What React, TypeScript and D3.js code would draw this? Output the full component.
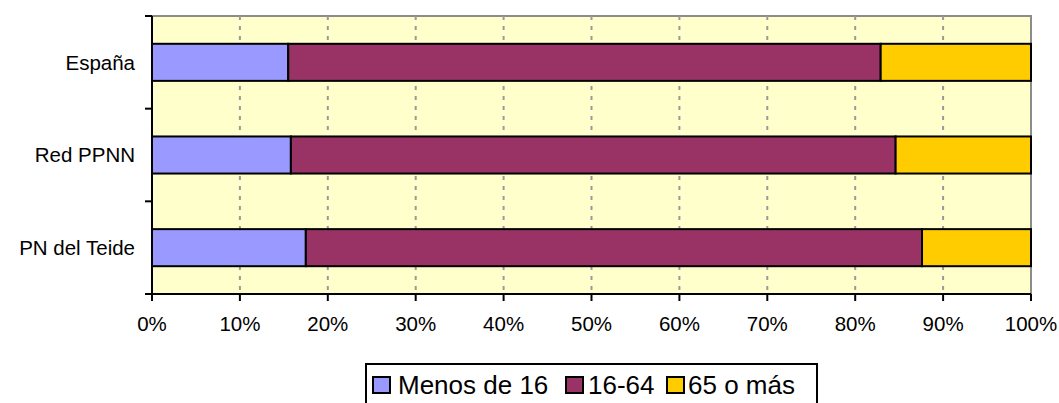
import { useEffect, useRef } from 'react'
import * as d3 from 'd3'

const categories = ['España', 'Red PPNN', 'PN del Teide']
const seriesNames = ['Menos de 16', '16-64', '65 o más']
const menos16 = [15.5, 15.8, 17.5]
const de16a64 = [67.4, 68.8, 70.1]
const mas65 = [17.1, 15.4, 12.4]
const seriesColors = ['#9999FF', '#993366', '#FFCC00']
const xTicks = [0, 10, 20, 30, 40, 50, 60, 70, 80, 90, 100]

const WIDTH = 1059
const HEIGHT = 403
const margin = { top: 16, right: 28, bottom: 109, left: 152 }
const FONT = 'Liberation Sans, Arial, sans-serif'

export default function App() {
  const svgRef = useRef<SVGSVGElement>(null)

  useEffect(() => {
    if (!svgRef.current) return
    const svg = d3.select(svgRef.current)
    svg.selectAll('*').remove()

    const w = WIDTH - margin.left - margin.right
    const h = HEIGHT - margin.top - margin.bottom
    const g = svg.append('g').attr('transform', `translate(${margin.left},${margin.top})`)

    const x = d3.scaleLinear().domain([0, 100]).range([0, w])
    const y = d3.scaleBand().domain(categories).range([0, h]).paddingInner(0.6).paddingOuter(0.3)
    const yEdges = d3.scaleLinear().domain([0, categories.length]).range([0, h])

    // plot background
    g.append('rect')
      .attr('width', w)
      .attr('height', h)
      .attr('fill', '#FFFFCC')
      .attr('stroke', '#8c8c8c')
      .attr('stroke-width', 2)

    // dashed gridlines
    g.selectAll('.grid')
      .data(xTicks.slice(1, -1))
      .join('line')
      .attr('x1', d => x(d))
      .attr('x2', d => x(d))
      .attr('y1', 0)
      .attr('y2', h)
      .attr('stroke', '#999999')
      .attr('stroke-width', 2)
      .attr('stroke-dasharray', '4,6')

    // stacked bars
    const stacked = d3.stack<number>()
      .keys(['0', '1', '2'])
      .value((i, k) => [menos16, de16a64, mas65][+k][i])(d3.range(categories.length))

    stacked.forEach((layer, si) => {
      g.selectAll(`.bar-${si}`)
        .data(layer)
        .join('rect')
        .attr('x', d => x(d[0]))
        .attr('y', (_, i) => y(categories[i])!)
        .attr('width', d => x(d[1]) - x(d[0]))
        .attr('height', y.bandwidth())
        .attr('fill', seriesColors[si])
        .attr('stroke', '#000')
        .attr('stroke-width', 2)
    })

    // y axis
    g.append('line')
      .attr('x1', 0).attr('x2', 0).attr('y1', 0).attr('y2', h)
      .attr('stroke', '#000').attr('stroke-width', 2)
    g.selectAll('.ytick')
      .data(d3.range(categories.length + 1))
      .join('line')
      .attr('x1', -7).attr('x2', 0)
      .attr('y1', d => yEdges(d)).attr('y2', d => yEdges(d))
      .attr('stroke', '#000').attr('stroke-width', 2)
    g.selectAll('.ylabel')
      .data(categories)
      .join('text')
      .attr('x', -17)
      .attr('y', d => y(d)! + y.bandwidth() / 2)
      .attr('dy', '0.35em')
      .attr('text-anchor', 'end')
      .attr('font-family', FONT)
      .attr('font-size', 20.5)
      .attr('fill', '#000')
      .text(d => d)

    // x axis
    g.append('line')
      .attr('x1', 0).attr('x2', w).attr('y1', h).attr('y2', h)
      .attr('stroke', '#000').attr('stroke-width', 2)
    g.selectAll('.xtick')
      .data(xTicks)
      .join('line')
      .attr('x1', d => x(d)).attr('x2', d => x(d))
      .attr('y1', h).attr('y2', h + 7)
      .attr('stroke', '#000').attr('stroke-width', 2)
    g.selectAll('.xlabel')
      .data(xTicks)
      .join('text')
      .attr('x', d => x(d))
      .attr('y', h + 37)
      .attr('text-anchor', 'middle')
      .attr('font-family', FONT)
      .attr('font-size', 20.5)
      .attr('fill', '#000')
      .text(d => `${d}%`)

    // legend
    const lg = svg.append('g').attr('transform', 'translate(366,364)')
    lg.append('rect')
      .attr('width', 451)
      .attr('height', 50)
      .attr('fill', '#fff')
      .attr('stroke', '#000')
      .attr('stroke-width', 2)
    const squareX = [7, 200, 301]
    const textX = [32, 222, 322]
    seriesNames.forEach((name, i) => {
      lg.append('rect')
        .attr('x', squareX[i])
        .attr('y', 13)
        .attr('width', 17)
        .attr('height', 16)
        .attr('fill', seriesColors[i])
        .attr('stroke', '#000')
        .attr('stroke-width', 2)
      lg.append('text')
        .attr('x', textX[i])
        .attr('y', 30)
        .attr('font-family', FONT)
        .attr('font-size', 26)
        .attr('fill', '#000')
        .text(name)
    })
  }, [])

  return (
    <div style={{ position: 'absolute', left: 0, top: 0 }}>
      <svg ref={svgRef} width={WIDTH} height={HEIGHT} style={{ display: 'block', background: '#fff' }} />
    </div>
  )
}
